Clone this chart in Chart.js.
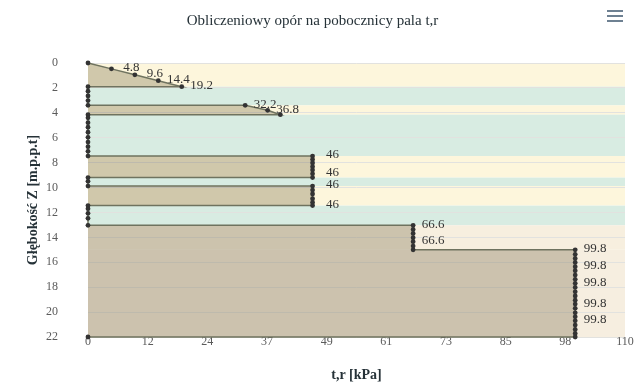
<!DOCTYPE html>
<html>
<head>
<meta charset="utf-8">
<script src="https://cdn.jsdelivr.net/npm/chart.js@4.4.1/dist/chart.umd.min.js"></script>
<style>
  body { margin: 0; background: #fff; }
  #wrap { position: relative; width: 634px; height: 391px; }
  .menu { position: absolute; left: 607px; top: 10px; width: 16px; }
  .menu span { display: block; height: 2px; background: #6e8192; margin-bottom: 3px; }
</style>
</head>
<body>
<div id="wrap">
  <canvas id="chart"></canvas>
  <div class="menu"><span></span><span></span><span></span></div>
</div>
<script>
// profile points: t,r [kPa] vs depth [m], in drawing order
const tValues = [
  0, 4.8, 9.6, 14.4, 19.2,
  0, 0, 0, 0, 0,
  32.2, 36.8, 39.4,
  0, 0, 0, 0, 0, 0, 0, 0, 0, 0,
  46, 46, 46, 46, 46, 46, 46,
  0, 0, 0,
  46, 46, 46, 46, 46, 46,
  0, 0, 0, 0, 0,
  66.6, 66.6, 66.6, 66.6, 66.6, 66.6, 66.6,
  99.8, 99.8, 99.8, 99.8, 99.8, 99.8, 99.8, 99.8, 99.8, 99.8, 99.8,
  99.8, 99.8, 99.8, 99.8, 99.8, 99.8, 99.8, 99.8, 99.8, 99.8, 99.8,
  0
];
const depths = [
  0, 0.47, 0.95, 1.42, 1.9,
  1.9, 2.27, 2.64, 3.02, 3.4,
  3.4, 3.8, 4.15,
  4.15, 4.4, 4.79, 5.16, 5.56, 5.97, 6.35, 6.72, 7.09, 7.47,
  7.47, 7.74, 8.02, 8.33, 8.6, 8.9, 9.2,
  9.2, 9.5, 9.88,
  9.88, 10.2, 10.52, 10.9, 11.2, 11.45,
  11.45, 11.7, 12.07, 12.47, 13.03,
  13.03, 13.36, 13.68, 14.03, 14.35, 14.7, 15.0,
  15.0, 15.36, 15.69, 16.01, 16.36, 16.68, 17.03, 17.37, 17.69, 18.02, 18.37,
  18.71, 19.04, 19.36, 19.7, 20.06, 20.38, 20.7, 21.04, 21.39, 21.71, 22.0,
  22.0
];
const labelled = [
  0, 1, 1, 1, 1,
  0, 0, 0, 0, 0,
  1, 1, 0,
  0, 0, 0, 0, 0, 0, 0, 0, 0, 0,
  1, 0, 0, 0, 0, 1, 0,
  0, 0, 0,
  1, 0, 0, 0, 0, 1,
  0, 0, 0, 0, 0,
  1, 0, 0, 0, 1, 0, 0,
  1, 0, 0, 0, 1, 0, 0, 0, 1, 0, 0,
  0, 0, 1, 0, 0, 0, 1, 0, 0, 0, 0,
  0
];

// soil layers drawn as background bands
const layerTops    = [0,   1.9, 3.4, 4.15, 7.47, 9.2,  9.88, 11.45, 13.03, 15.0];
const layerBottoms = [1.9, 3.4, 4.15, 7.47, 9.2, 9.88, 11.45, 13.03, 15.0, 22];
const layerColors  = ['#fdf6dc', '#d8ece2', '#fdf6dc', '#d8ece2', '#fdf6dc', '#d8ece2', '#fdf6dc', '#d8ece2', '#f7efdf', '#f6eee0'];

const xTickValues = [0, 12.22, 24.44, 36.67, 48.89, 61.11, 73.33, 85.56, 97.78, 110];
const xTickLabels = ['0', '12', '24', '37', '49', '61', '73', '85', '98', '110'];

const serif = 'Liberation Serif';

const layerBands = {
  id: 'layerBands',
  beforeDraw(chart) {
    const { ctx, chartArea: a, scales: { y } } = chart;
    ctx.save();
    layerTops.forEach((top, i) => {
      const y1 = y.getPixelForValue(top);
      const y2 = y.getPixelForValue(layerBottoms[i]);
      ctx.fillStyle = layerColors[i];
      ctx.fillRect(a.left, y1, a.right - a.left, y2 - y1);
    });
    ctx.restore();
  }
};

const pointLabels = {
  id: 'pointLabels',
  afterDatasetsDraw(chart) {
    const ctx = chart.ctx;
    const meta = chart.getDatasetMeta(0);
    ctx.save();
    ctx.font = '13px "' + serif + '"';
    ctx.fillStyle = '#333';
    ctx.textAlign = 'center';
    ctx.textBaseline = 'middle';
    meta.data.forEach((pt, i) => {
      if (!labelled[i]) return;
      ctx.fillText(String(tValues[i]), pt.x + 20, pt.y - 1);
    });
    ctx.restore();
  }
};

new Chart(document.getElementById('chart'), {
  type: 'line',
  data: {
    datasets: [{
      data: depths.map((z, i) => ({ x: tValues[i], y: z })),
      borderColor: '#6f735f',
      borderWidth: 1.5,
      backgroundColor: 'rgba(107,93,60,0.3)',
      fill: 'shape',
      tension: 0,
      pointRadius: 2.4,
      pointBackgroundColor: '#333',
      pointBorderWidth: 0,
      clip: false
    }]
  },
  options: {
    animation: false,
    responsive: true,
    maintainAspectRatio: false,
    layout: { padding: { left: 0, right: 9, top: 0, bottom: 0 } },
    plugins: {
      legend: { display: false },
      tooltip: { enabled: false },
      title: {
        display: true,
        text: 'Obliczeniowy opór na pobocznicy pala t,r',
        color: '#263238',
        font: { family: serif, size: 15, weight: 'normal' },
        padding: { top: 12, bottom: 33 }
      }
    },
    scales: {
      x: {
        type: 'linear',
        min: 0,
        max: 110,
        z: 1,
        afterBuildTicks: s => { s.ticks = xTickValues.map(v => ({ value: v })); },
        afterFit: s => { s.height = 54; },
        grid: { display: false },
        border: { display: false },
        ticks: {
          padding: -10,
          color: '#5b5b5b',
          autoSkip: false,
          maxRotation: 0,
          font: { family: serif, size: 12 },
          callback: (v, i) => xTickLabels[i]
        },
        title: {
          display: true,
          text: 't,r [kPa]',
          color: '#263238',
          font: { family: serif, size: 14, weight: 'bold' },
          padding: 7
        }
      },
      y: {
        type: 'linear',
        reverse: true,
        min: 0,
        max: 22,
        afterFit: s => { s.width = 88; },
        grid: { color: '#e2e2df', drawTicks: false },
        border: { display: false },
        ticks: {
          stepSize: 2,
          padding: 30,
          color: '#5b5b5b',
          font: { family: serif, size: 12 }
        },
        title: {
          display: true,
          text: 'Głębokość Z [m.p.p.t]',
          color: '#263238',
          font: { family: serif, size: 14, weight: 'bold' },
          padding: 25
        }
      }
    }
  },
  plugins: [layerBands, pointLabels]
});
</script>
</body>
</html>
